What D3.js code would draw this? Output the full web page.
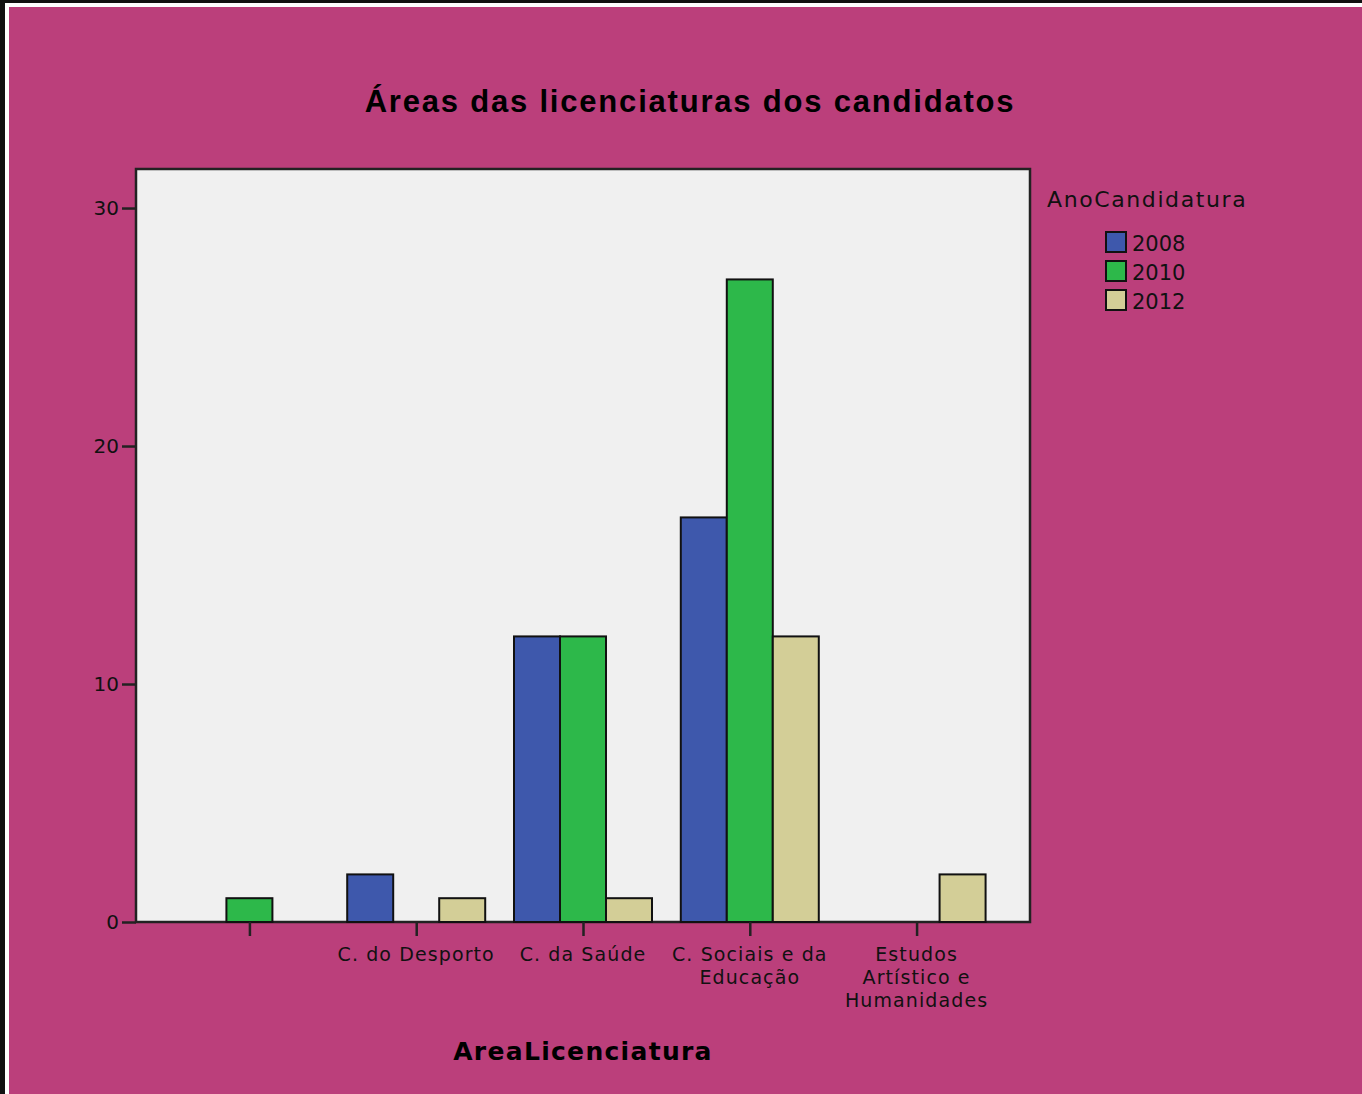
<!DOCTYPE html>
<html>
<head>
<meta charset="utf-8">
<script src="https://cdn.jsdelivr.net/npm/d3@7"></script>
<style>
  html, body { margin: 0; padding: 0; background: #111; }
  svg { display: block; }
</style>
</head>
<body>
<svg id="chart"></svg>
<script>
// categories and counts per year of application
let categories = ["", "C. do Desporto", "C. da Saúde", "C. Sociais e da Educação", "Estudos Artístico e Humanidades"];
let categoryLines = [[""], ["C. do Desporto"], ["C. da Saúde"], ["C. Sociais e da", "Educação"], ["Estudos", "Artístico e", "Humanidades"]];
let years = ["2008", "2010", "2012"];
let counts2008 = [0, 2, 12, 17, 0];
let counts2010 = [1, 0, 12, 27, 0];
let counts2012 = [0, 1, 1, 12, 2];
let yTicks = [0, 10, 20, 30];

let series = [counts2008, counts2010, counts2012];
let colors = d3.scaleOrdinal().domain(years).range(["#3E58AC", "#2DB84A", "#D3CE97"]);

let W = 1362, H = 1094;
let plot = {left: 136, top: 169, right: 1030, bottom: 922};

let svg = d3.select("#chart").attr("width", W).attr("height", H);

// frame: black edge, thin white line, magenta panel
svg.append("rect").attr("width", W).attr("height", H).attr("fill", "#111");
svg.append("rect").attr("x", 5).attr("y", 3).attr("width", W - 5).attr("height", H - 3).attr("fill", "#fff");
svg.append("rect").attr("x", 9).attr("y", 7).attr("width", W - 9).attr("height", H - 7).attr("fill", "#BB3F7B");

let x0 = d3.scalePoint().domain(categories).range([plot.left, plot.right]).padding(0.68);
let x1 = d3.scaleBand().domain(years).range([-69, 69]);
let y = d3.scaleLinear().domain([0, 31.64]).range([plot.bottom, plot.top]);

svg.append("rect")
    .attr("x", plot.left).attr("y", plot.top)
    .attr("width", plot.right - plot.left).attr("height", plot.bottom - plot.top)
    .attr("fill", "#F0F0F0")
    .attr("stroke", "#222").attr("stroke-width", 2.5);

// bars
let rows = [];
categories.forEach(function(c, i) {
    years.forEach(function(yr, j) {
        if (series[j][i] > 0) rows.push({cat: c, year: yr, value: series[j][i]});
    });
});

svg.append("g").selectAll("rect")
    .data(rows)
    .enter().append("rect")
    .attr("x", function(d) { return x0(d.cat) + x1(d.year); })
    .attr("y", function(d) { return y(d.value); })
    .attr("width", x1.bandwidth())
    .attr("height", function(d) { return y(0) - y(d.value); })
    .attr("fill", function(d) { return colors(d.year); })
    .attr("stroke", "#111").attr("stroke-width", 2);

// y axis
let yAxis = svg.append("g")
    .attr("transform", "translate(" + plot.left + ",0)")
    .call(d3.axisLeft(y).tickValues(yTicks).tickSize(14).tickPadding(3));
yAxis.select(".domain").remove();
yAxis.selectAll("line").attr("stroke", "#222").attr("stroke-width", 2.5);
yAxis.selectAll("text")
    .attr("fill", "#111")
    .style("font-family", "DejaVu Sans, sans-serif")
    .style("font-size", "20px");

// x axis
let xAxis = svg.append("g")
    .attr("transform", "translate(0," + plot.bottom + ")")
    .call(d3.axisBottom(x0).tickSize(14).tickFormat(""));
xAxis.select(".domain").remove();
xAxis.selectAll("line").attr("stroke", "#222").attr("stroke-width", 2.5);

svg.append("g").selectAll("text")
    .data(categories)
    .enter().append("text")
    .attr("x", function(d) { return x0(d); })
    .attr("y", plot.bottom + 39)
    .attr("text-anchor", "middle")
    .attr("fill", "#111")
    .style("font-family", "DejaVu Sans, sans-serif")
    .style("font-size", "19px")
    .style("letter-spacing", "1.1px")
    .each(function(d, i) {
        let t = d3.select(this);
        categoryLines[i].forEach(function(line, k) {
            t.append("tspan").attr("x", x0(d)).attr("dy", k == 0 ? 0 : 23).text(line);
        });
    });

// titles
svg.append("text")
    .attr("x", 690).attr("y", 112)
    .attr("text-anchor", "middle")
    .attr("fill", "#000")
    .style("font-family", "Liberation Sans, Arial, sans-serif")
    .style("font-weight", "bold")
    .style("font-size", "31px")
    .style("letter-spacing", "1.8px")
    .text("Áreas das licenciaturas dos candidatos");

svg.append("text")
    .attr("x", 583).attr("y", 1060)
    .attr("text-anchor", "middle")
    .attr("fill", "#000")
    .style("font-family", "DejaVu Sans, sans-serif")
    .style("font-weight", "bold")
    .style("font-size", "25px")
    .style("letter-spacing", "1.3px")
    .text("AreaLicenciatura");

// legend
let legend = svg.append("g");
legend.append("text")
    .attr("x", 1047).attr("y", 207)
    .attr("fill", "#111")
    .style("font-family", "DejaVu Sans, sans-serif")
    .style("font-size", "22px")
    .style("letter-spacing", "1.6px")
    .text("AnoCandidatura");

let items = legend.selectAll("g.item")
    .data(years)
    .enter().append("g")
    .attr("class", "item")
    .attr("transform", function(d, i) { return "translate(1106," + (232 + i * 29) + ")"; });
items.append("rect")
    .attr("width", 20).attr("height", 20)
    .attr("fill", function(d) { return colors(d); })
    .attr("stroke", "#111").attr("stroke-width", 2);
items.append("text")
    .attr("x", 26).attr("y", 19)
    .attr("fill", "#111")
    .style("font-family", "DejaVu Sans, sans-serif")
    .style("font-size", "21px")
    .text(function(d) { return d; });
</script>
</body>
</html>
